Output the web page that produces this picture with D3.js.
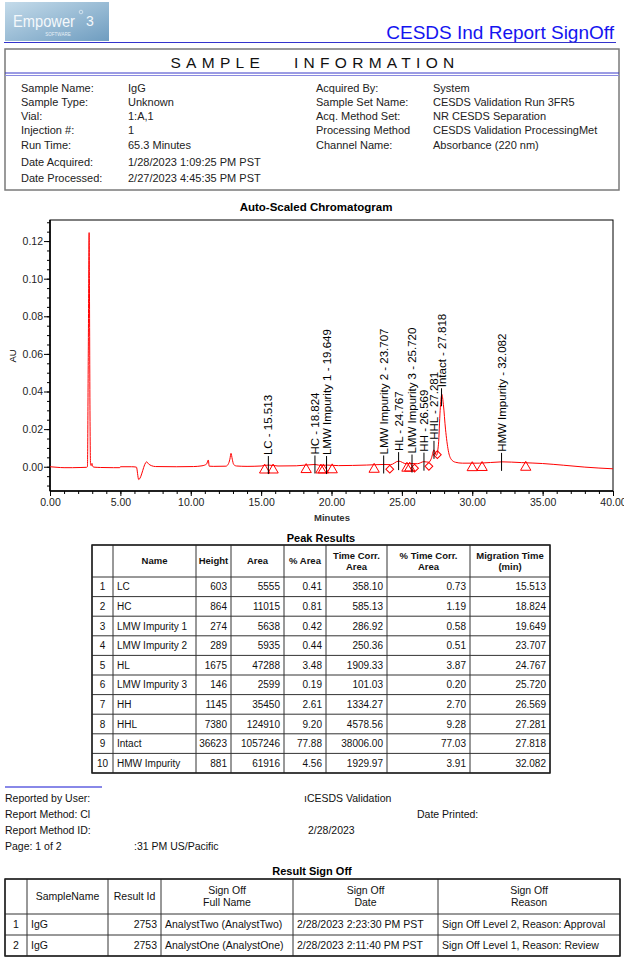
<!DOCTYPE html>
<html>
<head>
<meta charset="utf-8">
<script src="https://cdnjs.cloudflare.com/ajax/libs/d3/7.8.5/d3.min.js"></script>
<style>
  body { margin: 0; background: #fff; }
  svg { display: block; font-family: "Liberation Sans", Arial, sans-serif; }
</style>
</head>
<body>
<script>
// ---- data ----

// sample information block
var infoLeftLabels  = ["Sample Name:", "Sample Type:", "Vial:", "Injection #:", "Run Time:", "Date Acquired:", "Date Processed:"];
var infoLeftValues  = ["IgG", "Unknown", "1:A,1", "1", "65.3 Minutes", "1/28/2023 1:09:25 PM PST", "2/27/2023 4:45:35 PM PST"];
var infoRightLabels = ["Acquired By:", "Sample Set Name:", "Acq. Method Set:", "Processing Method", "Channel Name:"];
var infoRightValues = ["System", "CESDS Validation Run 3FR5", "NR CESDS Separation", "CESDS Validation ProcessingMet", "Absorbance (220 nm)"];

// chromatogram trace (minutes, AU)
var traceTime = [0, 0.5, 1.0, 1.6, 2.2, 2.6, 2.66, 2.72, 2.78, 2.80, 2.84, 2.88, 2.93, 2.98, 3.03, 3.1, 3.6, 4.5, 4.96, 5.0,
  5.8, 6.14, 6.30, 6.87, 7.0, 7.2, 7.5, 9.0, 10.2, 10.8, 11.12, 11.25, 11.31, 11.6, 12.5, 12.65, 12.78, 12.86, 12.95, 13.05,
  13.25, 14.0, 15.0, 15.51, 16.2, 17.5, 18.82, 19.3, 19.65, 20.5, 22.5, 23.7, 24.2, 24.77, 25.3, 25.72, 26.1, 26.57, 26.9, 27.1,
  27.28, 27.45, 27.6, 27.72, 27.84, 27.95, 28.1, 28.3, 28.5, 28.8, 29.3, 30.5, 32.1, 33.5, 35.0, 36.5, 38.0, 40.0];
var traceAU = [0.0000, -0.0003, -0.0005, -0.0005, -0.0004, -0.0003, 0.0000, 0.0600, 0.1245, 0.1000, 0.0300, 0.0010, 0.0006, 0.0018, 0.0004, -0.0002, -0.0004, -0.0005, -0.0005, 0.0000,
  0.0000, -0.0002, -0.0068, 0.0026, 0.0015, 0.0006, 0.0001, 0.0000, 0.0001, 0.0005, 0.0014, 0.0036, 0.0003, 0.0002, 0.0003, 0.0012, 0.0040, 0.0071, 0.0040, 0.0012,
  0.0004, 0.0002, 0.0004, 0.0009, 0.0004, 0.0005, 0.0012, 0.0006, 0.0009, 0.0006, 0.0009, 0.0012, 0.0011, 0.0030, 0.0016, 0.0017, 0.0016, 0.0027, 0.0024, 0.0045,
  0.0090, 0.0060, 0.0120, 0.0300, 0.0385, 0.0330, 0.0200, 0.0085, 0.0040, 0.0024, 0.0019, 0.0019, 0.0026, 0.0022, 0.0017, 0.0008, -0.0002, -0.0011];

// integration marks (minutes)
var startEndTimes = [15.25, 15.85, 18.2, 19.25, 19.42, 20.05, 23.03, 25.36, 25.56, 30.0, 30.7, 33.8];
var valleyTimes = [24.14, 25.9, 26.92, 27.52];

// peak results
var peakNames  = ["LC", "HC", "LMW Impurity 1", "LMW Impurity 2", "HL", "LMW Impurity 3", "HH", "HHL", "Intact", "HMW Impurity"];
var peakHeight = [603, 864, 274, 289, 1675, 146, 1145, 7380, 36623, 881];
var peakArea   = [5555, 11015, 5638, 5935, 47288, 2599, 35450, 124910, 1057246, 61916];
var peakPctArea = ["0.41", "0.81", "0.42", "0.44", "3.48", "0.19", "2.61", "9.20", "77.88", "4.56"];
var peakTCArea = ["358.10", "585.13", "286.92", "250.36", "1909.33", "101.03", "1334.27", "4578.56", "38006.00", "1929.97"];
var peakPctTC  = ["0.73", "1.19", "0.58", "0.51", "3.87", "0.20", "2.70", "9.28", "77.03", "3.91"];
var peakMT     = [15.513, 18.824, 19.649, 23.707, 24.767, 25.720, 26.569, 27.281, 27.818, 32.082];

// footer
var footerLeft = ["Reported by User:", "Report Method: Cl", "Report Method ID:", "Page: 1 of 2"];

// result sign off
var soSample = ["IgG", "IgG"];
var soResultId = [2753, 2753];
var soName = ["AnalystTwo (AnalystTwo)", "AnalystOne (AnalystOne)"];
var soDate = ["2/28/2023 2:23:30 PM PST", "2/28/2023 2:11:40 PM PST"];
var soReason = ["Sign Off Level 2, Reason: Approval", "Sign Off Level 1, Reason: Review"];

// ---- page ----
var svg = d3.select("body").append("svg")
    .attr("width", 624)
    .attr("height", 957);

// logo
var defs = svg.append("defs");
var grad = defs.append("linearGradient").attr("id", "logoGrad")
    .attr("x1", "0").attr("y1", "0").attr("x2", "1").attr("y2", "1");
grad.append("stop").attr("offset", "0").attr("stop-color", "#c4dbea");
grad.append("stop").attr("offset", "1").attr("stop-color", "#6f9dc0");

var logo = svg.append("g");
logo.append("rect").attr("x", 5).attr("y", 2).attr("width", 104).attr("height", 39)
    .attr("fill", "url(#logoGrad)");
logo.append("text").attr("x", 13).attr("y", 27).attr("fill", "#f4f8fb")
    .style("font-size", "17px")
    .attr("textLength", 62).attr("lengthAdjust", "spacingAndGlyphs").text("Empower");
logo.append("text").attr("x", 86).attr("y", 26).attr("fill", "#f4f8fb")
    .style("font-size", "14px").text("3");
logo.append("text").attr("x", 58).attr("y", 36).attr("text-anchor", "middle")
    .attr("fill", "#e8f0f6").style("font-size", "4.5px")
    .text("SOFTWARE");
// small registered mark drawn as a ring so it does not collide with the wordmark
logo.append("circle").attr("cx", 81).attr("cy", 12).attr("r", 1.8)
    .attr("fill", "none").attr("stroke", "#f4f8fb").attr("stroke-width", 0.6);

svg.append("text").attr("x", 614).attr("y", 39).attr("text-anchor", "end")
    .attr("fill", "#1414f0").style("font-size", "19px")
    .text("CESDS Ind Report SignOff");
svg.append("line").attr("x1", 4).attr("x2", 616).attr("y1", 42.5).attr("y2", 42.5)
    .attr("stroke", "#3333cc").attr("stroke-width", 1);

// sample information box
var info = svg.append("g");
info.append("rect").attr("x", 5).attr("y", 49).attr("width", 614).attr("height", 141)
    .attr("fill", "none").attr("stroke", "#7a7a7a").attr("stroke-width", 1.5);
info.append("text").attr("x", 315).attr("y", 68).attr("text-anchor", "middle")
    .style("font-size", "15.5px").style("letter-spacing", "5.3px").style("white-space", "pre")
    .attr("fill", "#111").text("SAMPLE   INFORMATION");
info.append("line").attr("x1", 5).attr("x2", 619).attr("y1", 73).attr("y2", 73).attr("stroke", "#3838c8");
info.append("line").attr("x1", 5).attr("x2", 619).attr("y1", 75.5).attr("y2", 75.5).attr("stroke", "#8a8ae0");

var leftRowsY = [92, 106, 120, 134, 149, 166, 182];
var rightRowsY = [92, 106, 120, 134, 149];
info.selectAll(".ll").data(infoLeftLabels).enter().append("text")
    .attr("x", 21).attr("y", function(d, i) { return leftRowsY[i]; })
    .style("font-size", "11px").attr("fill", "#222").text(function(d) { return d; });
info.selectAll(".lv").data(infoLeftValues).enter().append("text")
    .attr("x", 128).attr("y", function(d, i) { return leftRowsY[i]; })
    .style("font-size", "11px").attr("fill", "#222").text(function(d) { return d; });
info.selectAll(".rl").data(infoRightLabels).enter().append("text")
    .attr("x", 316).attr("y", function(d, i) { return rightRowsY[i]; })
    .style("font-size", "11px").attr("fill", "#222").text(function(d) { return d; });
info.selectAll(".rv").data(infoRightValues).enter().append("text")
    .attr("x", 433).attr("y", function(d, i) { return rightRowsY[i]; })
    .style("font-size", "11px").attr("fill", "#222").text(function(d) { return d; });

// ---- chromatogram ----
var x = d3.scaleLinear().domain([0, 40]).range([50, 613]);
var y = d3.scaleLinear().domain([-0.0129, 0.1312]).range([491, 220]);
// piecewise linear lookup of the trace
var auAt = d3.scaleLinear().domain(traceTime).range(traceAU).clamp(true);

var chart = svg.append("g");
chart.append("text").attr("x", 316).attr("y", 211).attr("text-anchor", "middle")
    .style("font-size", "11.5px").style("font-weight", "bold").text("Auto-Scaled Chromatogram");

chart.append("rect").attr("x", 50).attr("y", 220).attr("width", 563).attr("height", 271)
    .attr("fill", "none").attr("stroke", "#000").attr("stroke-width", 1);

// y axis: majors and minors
chart.append("g").attr("transform", "translate(50,0)")
    .call(d3.axisLeft(y).tickValues(d3.range(-0.01, 0.1301, 0.005)).tickSize(3).tickFormat(""))
    .call(function(g) { g.select(".domain").remove(); });
chart.append("g").attr("class", "yax").attr("transform", "translate(50,0)")
    .call(d3.axisLeft(y).tickValues(d3.range(0, 0.1201, 0.02)).tickSize(6).tickPadding(1).tickFormat(d3.format(".2f")))
    .call(function(g) { g.select(".domain").remove(); });

// x axis: majors and minors
chart.append("g").attr("transform", "translate(0,491)")
    .call(d3.axisBottom(x).tickValues(d3.range(0, 41, 1)).tickSize(3).tickFormat(""))
    .call(function(g) { g.select(".domain").remove(); });
chart.append("g").attr("class", "xax").attr("transform", "translate(0,491)")
    .call(d3.axisBottom(x).tickValues(d3.range(0, 41, 5)).tickSize(5).tickPadding(3).tickFormat(d3.format(".2f")))
    .call(function(g) { g.select(".domain").remove(); });

chart.selectAll(".yax text, .xax text")
    .style("font-size", "10.5px").style("font-family", "'Liberation Sans', Arial, sans-serif").attr("fill", "#222");
chart.selectAll(".tick line").attr("stroke", "#000");

chart.append("line").attr("x1", 50).attr("x2", 50).attr("y1", 220).attr("y2", 491)
    .attr("stroke", "#000").attr("stroke-width", 1.6);
chart.append("line").attr("x1", 50).attr("x2", 613).attr("y1", 491).attr("y2", 491)
    .attr("stroke", "#000").attr("stroke-width", 1.6);

chart.append("text").attr("transform", "translate(16,356) rotate(-90)").attr("text-anchor", "middle")
    .style("font-size", "9.5px").text("AU");
chart.append("text").attr("x", 332).attr("y", 521).attr("text-anchor", "middle")
    .style("font-size", "9.5px").style("font-weight", "bold").attr("fill", "#333").text("Minutes");

// trace
var line = d3.line()
    .x(function(d) { return x(d); })
    .y(function(d, i) { return y(traceAU[i]); })
    .curve(d3.curveMonotoneX);
chart.append("path").datum(traceTime)
    .attr("d", line)
    .attr("fill", "none").attr("stroke", "#ff0000").attr("stroke-width", 1);

// integration marks
chart.selectAll(".tri").data(startEndTimes).enter().append("path")
    .attr("d", d3.symbol().type(d3.symbolTriangle).size(46))
    .attr("transform", function(d) { return "translate(" + x(d) + "," + (y(auAt(d)) + 4.5) + ")"; })
    .attr("fill", "none").attr("stroke", "#ff0000").attr("stroke-width", 1);
chart.selectAll(".dia").data(valleyTimes).enter().append("path")
    .attr("d", d3.symbol().type(d3.symbolSquare).size(30))
    .attr("transform", function(d) { return "translate(" + x(d) + "," + (y(auAt(d)) + 4.5) + ") rotate(45)"; })
    .attr("fill", "none").attr("stroke", "#ff0000").attr("stroke-width", 1);

// peak labels
var labels = chart.selectAll(".plabel").data(peakMT).enter().append("g")
    .attr("transform", function(d) { return "translate(" + x(d) + "," + y(auAt(d)) + ")"; });
labels.append("line").attr("y1", 9).attr("y2", -9).attr("stroke", "#000").attr("stroke-width", 1);
labels.append("text").attr("transform", "translate(0,-10) rotate(-90)")
    .attr("dy", "0.35em").style("font-size", "11.5px").attr("fill", "#000")
    .text(function(d, i) { return peakNames[i] + " - " + d.toFixed(3); });

// ---- generic table ----
function drawTable(g, colX, rowY, rows, align, headerStyle, bodySize) {
  var x0 = colX[0], x1 = colX[colX.length - 1], y0 = rowY[0], y1 = rowY[rowY.length - 1];
  rowY.forEach(function(ry) {
    g.append("line").attr("x1", x0).attr("x2", x1).attr("y1", ry).attr("y2", ry).attr("stroke", "#333");
  });
  colX.forEach(function(cx) {
    g.append("line").attr("x1", cx).attr("x2", cx).attr("y1", y0).attr("y2", y1).attr("stroke", "#333");
  });
  g.append("rect").attr("x", x0).attr("y", y0).attr("width", x1 - x0).attr("height", y1 - y0)
      .attr("fill", "none").attr("stroke", "#222").attr("stroke-width", 1.5);

  rows.forEach(function(row, r) {
    var top = rowY[r], bot = rowY[r + 1];
    row.forEach(function(cell, c) {
      var lines = String(cell).split("\n");
      var isHead = r === 0;
      var a = isHead ? "middle" : align[c];
      var tx = a === "middle" ? (colX[c] + colX[c + 1]) / 2 : a === "end" ? colX[c + 1] - 4 : colX[c] + 4;
      var fs = isHead ? headerStyle.size : bodySize;
      var lh = fs * 1.2;
      var cy = (top + bot) / 2 - (lines.length - 1) * lh / 2;
      var t = g.append("text").attr("text-anchor", a)
          .style("font-size", fs + "px")
          .style("font-weight", isHead ? headerStyle.weight : "normal")
          .attr("fill", "#111");
      lines.forEach(function(s, k) {
        t.append("tspan").attr("x", tx).attr("y", cy + k * lh).attr("dy", "0.35em").text(s);
      });
    });
  });
}

// peak results table
svg.append("text").attr("x", 321).attr("y", 542).attr("text-anchor", "middle")
    .style("font-size", "11px").style("font-weight", "bold").text("Peak Results");
var peakCols = [92, 113, 196, 231, 284, 326, 387, 470, 550];
var peakRowsY = [545, 577];
peakNames.forEach(function(d, i) { peakRowsY.push(577 + (i + 1) * 19.6); });
var peakRows = [["", "Name", "Height", "Area", "% Area", "Time Corr.\nArea", "% Time Corr.\nArea", "Migration Time\n(min)"]];
peakNames.forEach(function(n, i) {
  peakRows.push([i + 1, n, peakHeight[i], peakArea[i], peakPctArea[i], peakTCArea[i], peakPctTC[i], peakMT[i].toFixed(3)]);
});
drawTable(svg.append("g"), peakCols, peakRowsY, peakRows,
    ["middle", "start", "end", "end", "end", "end", "end", "end"], {size: 9.5, weight: "bold"}, 10);

// footer
var foot = svg.append("g").style("font-size", "10.5px").attr("fill", "#111");
foot.append("line").attr("x1", 5).attr("x2", 102).attr("y1", 787).attr("y2", 787)
    .attr("stroke", "#6060e0").attr("stroke-width", 1.5);
var footY = [802, 818, 834, 850];
foot.selectAll(".fl").data(footerLeft).enter().append("text")
    .attr("x", 5).attr("y", function(d, i) { return footY[i]; }).text(function(d) { return d; });
foot.append("text").attr("x", 304).attr("y", footY[0]).text("\u0131CESDS Validation");
foot.append("text").attr("x", 417).attr("y", footY[1]).text("Date Printed:");
foot.append("text").attr("x", 308).attr("y", footY[2]).text("2/28/2023");
foot.append("text").attr("x", 134).attr("y", footY[3]).text(":31 PM US/Pacific");

// result sign off table
svg.append("text").attr("x", 312).attr("y", 875).attr("text-anchor", "middle")
    .style("font-size", "11px").style("font-weight", "bold").text("Result Sign Off");
var soCols = [5, 27, 108, 161, 293, 438, 620];
var soRowsY = [879, 914, 935, 956];
var soRows = [["", "SampleName", "Result Id", "Sign Off\nFull Name", "Sign Off\nDate", "Sign Off\nReason"]];
soSample.forEach(function(s, i) {
  soRows.push([i + 1, s, soResultId[i], soName[i], soDate[i], soReason[i]]);
});
drawTable(svg.append("g"), soCols, soRowsY, soRows,
    ["middle", "start", "end", "start", "start", "start"], {size: 10.5, weight: "normal"}, 10.5);
</script>
</body>
</html>
